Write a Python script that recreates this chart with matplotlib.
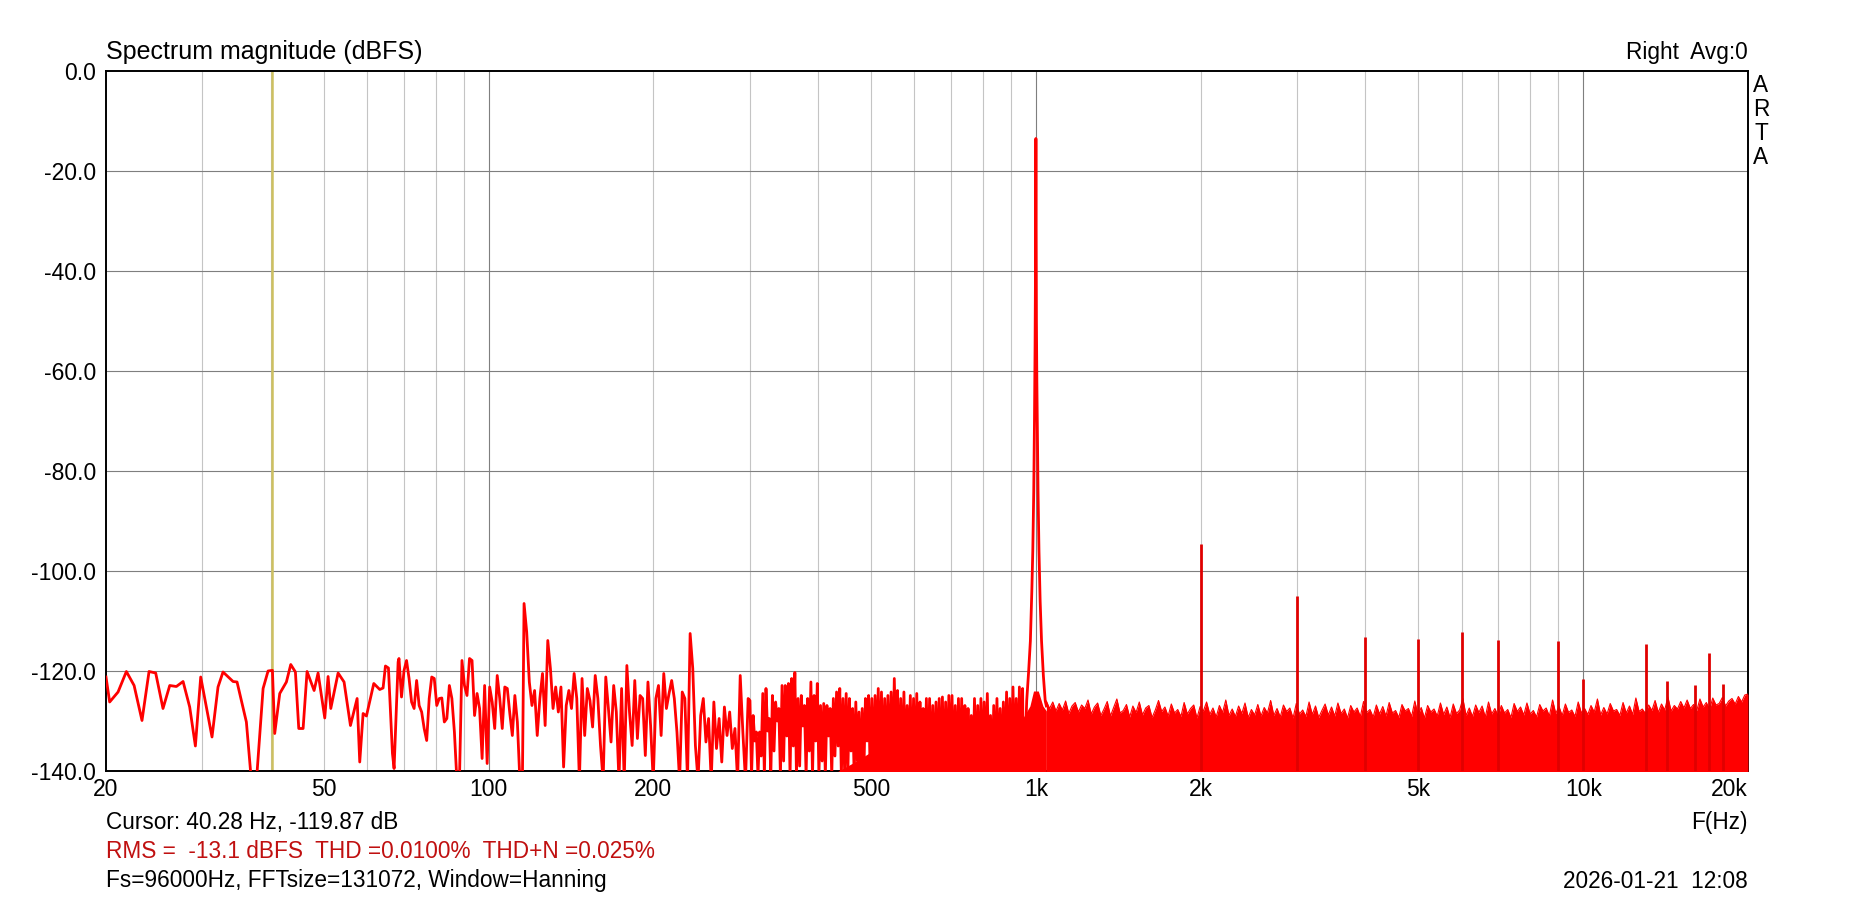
import numpy as np
import matplotlib
matplotlib.use("Agg")
import matplotlib.pyplot as plt

plt.rcParams['font.family'] = ['Liberation Sans', 'DejaVu Sans']

# --- data (dBFS) ---
# 20..68 Hz, individual FFT bins
f_low = [20.0, 20.31, 21.04, 21.79, 22.51, 23.27, 23.97, 24.65, 25.42, 26.15,
         26.89, 27.66, 28.44, 29.13, 29.79, 31.24, 32.04, 32.72, 34.13, 34.71,
         36.10, 36.87, 37.66, 38.73, 39.55, 40.28, 40.67, 41.54, 42.72, 43.51,
         44.37, 45.0, 45.83, 46.60, 48.0, 48.81, 50.2, 50.91, 51.49, 53.1,
         54.45, 55.93, 57.52, 58.16, 58.99, 59.82, 61.70, 63.27, 64.16, 64.80,
         65.62, 66.74, 67.20, 68.35]
db_low = [-121.2, -126.2, -124.2, -120.1, -122.9, -129.9, -120.1, -120.4, -127.5, -122.9,
          -123.1, -122.1, -127.2, -135.0, -121.2, -133.2, -123.2, -120.2, -122.1, -122.2,
          -130.2, -142, -142, -123.5, -120.0, -119.87, -132.5, -124.5, -122.2, -118.7,
          -120.2, -131.5, -131.5, -120.1, -123.9, -120.4, -129.4, -121.1, -127.5, -120.4,
          -122.2, -130.9, -125.5, -138.2, -128.5, -129.0, -122.5, -123.7, -123.4, -119.0,
          -119.4, -136.5, -139.5, -118.2]

# 68.6..115 Hz
db_mid_a = [-117.5, -125.2, -119.9, -117.9, -121.5, -126.2, -127.5, -121.9, -126.9, -128.2,
            -131.5, -133.9, -125.5, -121.2, -121.5, -126.9, -125.5, -125.4, -130.2, -129.5,
            -122.9, -125.5, -132.2, -142, -142, -117.9, -122.9, -124.9, -117.5, -117.9,
            -128.9, -124.5, -127.5, -137.5, -122.9, -138.5, -123.2, -126.2, -131.5, -120.9,
            -125.5, -131.5, -123.2, -123.5, -128.5, -132.9, -124.9, -130.2, -142, -142]
# 116..298 Hz
db_mid_b = [-106.5, -112.2, -122.2, -126.9, -123.9, -132.9, -125.5, -120.5, -130.9, -113.9,
            -119.5, -127.5, -123.2, -128.2, -123.2, -139.2, -126.9, -123.9, -127.5, -120.5,
            -125.5, -142, -121.5, -132.9, -123.5, -125.9, -131.2, -120.9, -125.5, -134.9,
            -142, -121.2, -127.5, -134.2, -122.9, -128.2, -142, -123.5, -142, -118.9,
            -128.2, -134.9, -121.9, -133.5, -124.9, -125.5, -136.9, -122.2, -130.9, -142,
            -125.5, -122.9, -132.9, -120.5, -127.5, -124.5, -121.9, -125.5, -132.2, -142,
            -124.2, -125.5, -142, -112.5, -119.5, -134.9, -142, -128.9, -125.5, -134.2,
            -129.5, -142, -126.2, -135.5, -129.5, -138.2, -127.2, -132.9, -128.2, -135.5,
            -131.5, -142, -120.9, -132.2, -142, -125.5]

# 300..945 Hz: local maxima and minima of the dense trace
db_hi = [-125.9, -128.9, -132.2, -132.2, -124.5, -123.5, -129.5, -124.9, -126.2, -127.5,
         -122.9, -122.9, -122.5, -121.5, -120.3, -125.5, -124.9, -126.9, -125.5, -122.2,
         -124.9, -122.5, -126.9, -126.5, -126.9, -127.5, -125.5, -124.2, -123.5, -125.5,
         -124.5, -125.5, -127.5, -126.2, -128.2, -127.5, -125.5, -124.9, -125.5, -124.9,
         -123.5, -124.2, -125.5, -124.9, -124.2, -121.5, -123.9, -125.5, -124.2, -126.9,
         -124.9, -125.5, -124.5, -126.2, -127.5, -125.5, -125.5, -126.9, -126.2, -125.5,
         -125.2, -126.2, -124.9, -124.9, -126.9, -125.5, -125.5, -126.9, -127.5, -128.9,
         -125.5, -126.9, -125.5, -126.2, -124.5, -128.9, -126.9, -125.5, -127.5, -126.2,
         -124.2, -125.5, -123.2, -125.5, -123.2, -123.5]
db_lo = [-141, -134, -141, -137, -141, -132, -141, -136, -130, -141,
         -138, -133, -141, -135, -141, -139, -131, -141, -136, -141,
         -134, -141, -138, -141, -133, -141, -137, -135, -141, -140,
         -141, -136, -141, -138, -141, -141, -134, -141, -141, -137,
         -141, -141, -139, -141, -141, -136, -141, -141, -141, -138,
         -141, -141, -141, -137, -141, -141, -141, -141, -139, -141,
         -141, -141, -138, -141, -141, -141, -141, -136, -141, -141,
         -141, -141, -141, -139, -141, -141, -141, -141, -141, -141,
         -141, -141, -141, -141, -141, -141]

# solid part of the trace below the spikes, 420..1045 Hz
f_mass = [420, 470, 520, 580, 640, 700, 760, 820, 880, 940, 975, 990, 1010, 1030, 1045]
db_mass = [-141, -138, -135, -133.5, -133, -132, -131.5, -132, -131, -130, -127, -124,
           -124, -127, -128]

# fundamental at 1 kHz
f_fund = [952, 962, 970, 977, 983, 987, 991, 994, 996.5, 998.2, 999.3, 1000, 1000.8,
          1002.2, 1004, 1006.5, 1009, 1013, 1018, 1024, 1032, 1040, 1045]
db_fund = [-141, -126, -120, -114, -104, -96, -84, -70, -55, -40, -25, -13.5, -30,
           -50, -62, -74, -84, -96, -106, -114, -121, -126, -127]

# noise floor top 1.045k..20k
db_floor = [-126.0, -127.5, -126.2, -128.0, -126.5, -127.8, -126.0, -128.5, -127.0, -126.3,
            -128.2, -126.8, -127.5, -125.8, -128.6, -127.2, -126.4, -128.9, -127.6, -126.1,
            -129.0, -127.3, -125.6, -128.4, -127.9, -126.7, -129.2, -127.0, -128.3, -126.2,
            -128.8, -127.4, -126.9, -129.3, -127.8, -125.9, -128.1, -127.2, -129.0, -126.6,
            -128.4, -127.7, -129.1, -126.3, -128.6, -127.5, -126.8, -129.4, -127.1, -128.0,
            -126.2, -128.7, -127.4, -129.2, -126.9, -128.3, -125.8, -128.9, -127.6, -129.1,
            -127.0, -128.5, -126.4, -129.3, -127.7, -128.8, -126.7, -129.0, -127.3, -128.4,
            -125.9, -128.9, -127.5, -129.2, -126.8, -128.1, -127.4, -129.4, -126.5, -128.6,
            -127.8, -129.1, -126.2, -128.7, -127.0, -129.3, -127.9, -126.6, -128.8, -127.2,
            -129.0, -126.4, -128.5, -127.6, -129.4, -126.9, -128.2, -127.4, -129.1, -126.1,
            -128.3, -127.7, -129.2, -126.8, -128.6, -127.1, -129.0, -126.3, -128.4, -127.9,
            -129.3, -126.7, -128.0, -127.5, -129.1, -126.0, -128.8, -127.3, -129.4, -126.9,
            -128.2, -127.6, -129.0, -126.4, -128.7, -127.2, -129.3, -126.6, -128.5, -127.8,
            -125.5, -128.9, -127.4, -129.1, -126.8, -128.3, -127.0, -129.2, -126.2, -128.6,
            -127.5, -129.0, -126.9, -128.4, -127.7, -129.3, -126.5, -128.1, -127.2, -128.8,
            -126.4, -128.6, -127.9, -129.2, -126.7, -128.0, -127.4, -129.0, -125.8, -128.5,
            -127.1, -128.9, -126.6, -128.3, -127.8, -129.1, -126.2, -128.4, -127.5, -128.7,
            -126.9, -128.2, -125.6, -128.8, -127.3, -128.6, -126.5, -128.0, -127.7, -128.9,
            -126.3, -128.4, -127.0, -128.7, -125.4, -128.1, -127.6, -128.5, -126.8, -127.9,
            -125.9, -128.3, -126.6, -127.8, -125.2, -128.0, -126.9, -127.6, -126.1, -127.4,
            -125.8, -127.5, -126.7, -127.9, -125.6, -127.2, -126.3, -127.7, -125.4, -126.8,
            -126.5, -125.3, -127.0, -126.0, -125.5, -126.6, -125.1, -126.2, -124.8, -124.6]

# harmonics / spurs
f_spur = [2000, 3000, 4000, 5000, 6000, 7000, 9000, 10000, 13000, 14200, 16000, 17000, 18000]
db_spur = [-94.5, -105.0, -113.1, -113.5, -112.2, -113.7, -113.9, -121.5, -114.5, -122.0,
           -122.7, -116.3, -122.5]

cursor_f = 40.28

x_ticks = [20, 50, 100, 200, 500, 1000, 2000, 5000, 10000, 20000]
x_labels = ["20", "50", "100", "200", "500", "1k", "2k", "5k", "10k", "20k"]
y_ticks = [0, -20, -40, -60, -80, -100, -120, -140]
y_labels = ["0.0", "-20.0", "-40.0", "-60.0", "-80.0", "-100.0", "-120.0", "-140.0"]

# --- build the trace ---
f_mid_a = np.geomspace(68.6, 115.3, len(db_mid_a))
f_mid_b = np.geomspace(116.1, 298.0, len(db_mid_b))
f_hi = np.geomspace(300.3, 945.6, len(db_hi))
f_lo = np.append(np.sqrt(f_hi[:-1] * f_hi[1:]), 948.5)
f_dense = np.column_stack([f_hi, f_lo]).ravel()
db_dense = np.column_stack([db_hi, db_lo]).ravel()

freq = np.concatenate([f_low, f_mid_a, f_mid_b, f_dense, f_fund])
mag = np.concatenate([db_low, db_mid_a, db_mid_b, db_dense, db_fund])
f_floor = np.geomspace(1045, 20000, len(db_floor))

W, H = 1852, 899
fig = plt.figure(figsize=(W / 100, H / 100), dpi=100)
ax = fig.add_axes([106 / W, 1 - 771 / H, (1748 - 106) / W, (771 - 71) / H])
ax.set_xscale('log')
ax.set_xlim(20, 20000)
ax.set_ylim(-140, 0)

# grid
for dec in [10, 100, 1000, 10000]:
    for m in range(1, 10):
        g = dec * m
        if g <= 20 or g >= 20000:
            continue
        major = m == 1
        ax.axvline(g, color='#7f7f7f' if major else '#c4c4c4', lw=0.8, zorder=0)
for y in y_ticks[1:-1]:
    ax.axhline(y, color='#7f7f7f', lw=0.8, zorder=0)

ax.axvline(cursor_f, color='#cdc060', lw=1.8, zorder=1)

red = '#ff0000'
ax.plot(freq, mag, color=red, lw=2.0, zorder=3)
ax.fill_between(f_mass, db_mass, -141, color=red, lw=0, zorder=3)
ax.fill_between(f_floor, db_floor, -141, color=red, lw=0, zorder=3)
ax.plot(f_floor, db_floor, color=red, lw=0.8, zorder=3)
ax.vlines(f_spur, -141, db_spur, color='#e00000', lw=2.0, zorder=3)

ax.set_xticks(x_ticks)
ax.set_xticklabels(x_labels)
ax.xaxis.set_minor_locator(matplotlib.ticker.NullLocator())
ax.set_yticks(y_ticks)
ax.set_yticklabels(y_labels)
ax.tick_params(length=0, labelsize=16.5, colors='black')
ax.tick_params(axis='x', pad=5)
ax.tick_params(axis='y', pad=7)
ax.get_xticklabels()[-1].set_horizontalalignment('right')
for s in ax.spines.values():
    s.set_linewidth(1.4)
    s.set_color('black')

fs = 16.3
fig.text(106 / W, 1 - 52 / H, "Spectrum magnitude (dBFS)", fontsize=18, va='center')
fig.text(1748 / W, 1 - 52 / H, "Right  Avg:0", fontsize=fs, va='center', ha='right')
for letter, yp in zip("ARTA", [85, 109, 133, 157]):
    fig.text(1761 / W, 1 - yp / H, letter, fontsize=fs, va='center', ha='center')

fig.text(106 / W, 1 - 823 / H, "Cursor: 40.28 Hz, -119.87 dB", fontsize=fs, va='center')
fig.text(1748 / W, 1 - 823 / H, "F(Hz)", fontsize=fs, va='center', ha='right')
fig.text(106 / W, 1 - 852 / H, "RMS =  -13.1 dBFS  THD =0.0100%  THD+N =0.025%",
         fontsize=fs, va='center', color='#c01010')
fig.text(106 / W, 1 - 881 / H, "Fs=96000Hz, FFTsize=131072, Window=Hanning",
         fontsize=fs, va='center')
fig.text(1748 / W, 1 - 881 / H, "2026-01-21  12:08", fontsize=fs, va='center', ha='right')

fig.savefig("out.png", dpi=100, facecolor='white')
